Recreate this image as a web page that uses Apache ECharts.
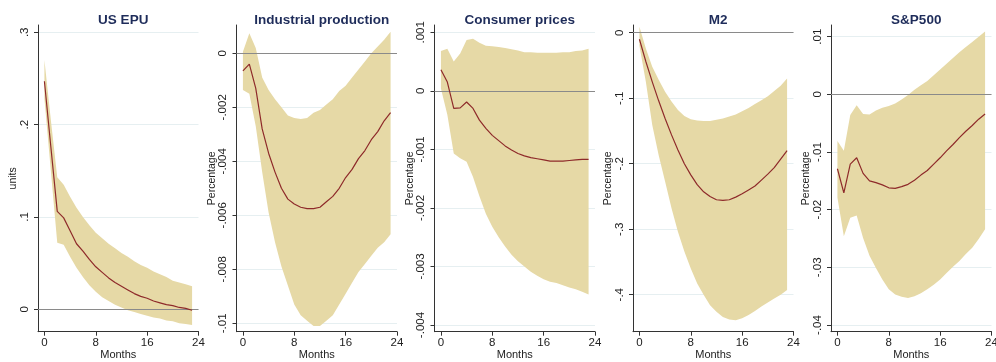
<!DOCTYPE html>
<html>
<head>
<meta charset="utf-8">
<script src="https://cdn.jsdelivr.net/npm/echarts@6/dist/echarts.min.js"></script>
<style>
  html, body { margin: 0; padding: 0; background: #fff; }
  #chart { width: 996px; height: 362px; }
</style>
</head>
<body>
<div id="chart"></div>
<script>
// Impulse responses to a US EPU shock, with confidence bands (months 0-23)
const months = [0,1,2,3,4,5,6,7,8,9,10,11,12,13,14,15,16,17,18,19,20,21,22,23];
const monthTicks = [0, 8, 16, 24];

const titles = ['US EPU', 'Industrial production', 'Consumer prices', 'M2', 'S&P500'];
const yNames = ['units', 'Percentage', 'Percentage', 'Percentage', 'Percentage'];

// US EPU
const epuMid = [0.247,0.176,0.106,0.099,0.085,0.071,0.063,0.054,0.046,0.040,0.034,0.029,0.025,0.021,0.017,0.014,0.012,0.009,0.007,0.005,0.004,0.002,0.001,-0.001];
const epuUp  = [0.270,0.205,0.143,0.135,0.122,0.110,0.100,0.091,0.083,0.077,0.071,0.066,0.061,0.057,0.052,0.048,0.045,0.041,0.038,0.035,0.031,0.029,0.027,0.025];
const epuLo  = [0.228,0.150,0.072,0.070,0.057,0.045,0.035,0.026,0.019,0.013,0.009,0.005,0.002,-0.001,-0.003,-0.005,-0.007,-0.009,-0.010,-0.012,-0.013,-0.015,-0.016,-0.017];

// Industrial production
const ipMid = [-0.00065,-0.0004,-0.0013,-0.0028,-0.0037,-0.0044,-0.0050,-0.0054,-0.00558,-0.0057,-0.00575,-0.00575,-0.0057,-0.0055,-0.0053,-0.0050,-0.0046,-0.0043,-0.0039,-0.0036,-0.0032,-0.0029,-0.0025,-0.0022];
const ipUp  = [0.00006,0.00074,0.0002,-0.0009,-0.00136,-0.0017,-0.0020,-0.0023,-0.0024,-0.00243,-0.0024,-0.0022,-0.0021,-0.0019,-0.0017,-0.0014,-0.0012,-0.0009,-0.0006,-0.0003,0.0,0.00025,0.0005,0.0008];
const ipLo  = [-0.00136,-0.0015,-0.0027,-0.0044,-0.0059,-0.0070,-0.0079,-0.0086,-0.0093,-0.0097,-0.0099,-0.0101,-0.0101,-0.0099,-0.0097,-0.0093,-0.0089,-0.0085,-0.0081,-0.0078,-0.0075,-0.0072,-0.0070,-0.0067];

// Consumer prices
const cpMid = [0.00036,0.00015,-0.0003,-0.00029,-0.00019,-0.0003,-0.0005,-0.00064,-0.00076,-0.00085,-0.00094,-0.00101,-0.00107,-0.00111,-0.00114,-0.00116,-0.00118,-0.0012,-0.0012,-0.0012,-0.00119,-0.00118,-0.00117,-0.00117];
const cpUp  = [0.00068,0.00072,0.0005,0.00064,0.00087,0.00089,0.00082,0.00077,0.00076,0.00075,0.00073,0.00071,0.00069,0.00066,0.00066,0.00065,0.00065,0.00065,0.00065,0.00066,0.00066,0.00068,0.00069,0.00072];
const cpLo  = [0.00004,-0.00041,-0.00107,-0.00115,-0.00121,-0.00147,-0.0018,-0.0021,-0.00232,-0.0025,-0.00266,-0.0028,-0.00291,-0.0030,-0.00309,-0.00316,-0.00322,-0.00326,-0.00328,-0.00332,-0.00336,-0.00339,-0.00343,-0.00348];

// M2
const m2Mid = [-0.010,-0.044,-0.075,-0.104,-0.131,-0.156,-0.179,-0.200,-0.217,-0.232,-0.243,-0.250,-0.255,-0.256,-0.255,-0.251,-0.246,-0.240,-0.234,-0.225,-0.216,-0.206,-0.193,-0.180];
const m2Up  = [0.009,-0.024,-0.052,-0.072,-0.090,-0.105,-0.118,-0.127,-0.132,-0.134,-0.135,-0.135,-0.133,-0.131,-0.128,-0.125,-0.120,-0.115,-0.109,-0.103,-0.097,-0.089,-0.081,-0.070];
const m2Lo  = [-0.020,-0.075,-0.141,-0.187,-0.227,-0.268,-0.304,-0.334,-0.360,-0.383,-0.400,-0.416,-0.426,-0.434,-0.438,-0.439,-0.436,-0.431,-0.425,-0.418,-0.412,-0.406,-0.400,-0.393];

// S&P500
const spMid = [-0.0129,-0.0171,-0.0121,-0.0110,-0.0137,-0.0150,-0.0153,-0.0157,-0.0162,-0.0163,-0.0160,-0.0156,-0.0149,-0.0140,-0.0132,-0.0121,-0.0110,-0.0098,-0.0087,-0.0075,-0.0064,-0.0054,-0.0043,-0.0034];
const spUp  = [-0.0081,-0.0098,-0.0036,-0.0019,-0.0034,-0.0035,-0.0028,-0.0023,-0.0020,-0.0016,-0.0009,-0.0001,0.0008,0.0016,0.0023,0.0033,0.0043,0.0053,0.0063,0.0073,0.0082,0.0091,0.0100,0.0109];
const spLo  = [-0.0179,-0.0246,-0.0214,-0.0210,-0.0249,-0.0280,-0.0301,-0.0321,-0.0338,-0.0347,-0.0351,-0.0353,-0.0350,-0.0345,-0.0338,-0.0330,-0.0321,-0.0310,-0.0299,-0.0289,-0.0277,-0.0266,-0.0251,-0.0234];

// Y-axis tick values and their printed labels
const epuTicks = [0, 0.1, 0.2, 0.3];
const epuTickLabels = ['0', '.1', '.2', '.3'];
const ipTicks = [-0.01, -0.008, -0.006, -0.004, -0.002, 0];
const ipTickLabels = ['-.01', '-.008', '-.006', '-.004', '-.002', '0'];
const cpTicks = [-0.004, -0.003, -0.002, -0.001, 0, 0.001];
const cpTickLabels = ['-.004', '-.003', '-.002', '-.001', '0', '.001'];
const m2Ticks = [-0.4, -0.3, -0.2, -0.1, 0];
const m2TickLabels = ['-.4', '-.3', '-.2', '-.1', '0'];
const spTicks = [-0.04, -0.03, -0.02, -0.01, 0, 0.01];
const spTickLabels = ['-.04', '-.03', '-.02', '-.01', '0', '.01'];

const panels = [
  { mid: epuMid, up: epuUp, lo: epuLo, ticks: epuTicks, labels: epuTickLabels, min: -0.02426, max: 0.3079 },
  { mid: ipMid,  up: ipUp,  lo: ipLo,  ticks: ipTicks,  labels: ipTickLabels,  min: -0.01031, max: 0.001048 },
  { mid: cpMid,  up: cpUp,  lo: cpLo,  ticks: cpTicks,  labels: cpTickLabels,  min: -0.004114, max: 0.001125 },
  { mid: m2Mid,  up: m2Up,  lo: m2Lo,  ticks: m2Ticks,  labels: m2TickLabels,  min: -0.4565, max: 0.01176 },
  { mid: spMid,  up: spUp,  lo: spLo,  ticks: spTicks,  labels: spTickLabels,  min: -0.04116, max: 0.01203 }
];

const gridLefts = [38, 236.5, 434.5, 633, 831];
const gridWidth = 160.5;
const gridTop = 25;
const gridHeight = 306.7;

const FONT = 'Liberation Sans, Arial, sans-serif';
const AXIS_COLOR = '#333333';
const BAND_COLOR = '#E6D9A6';
const LINE_COLOR = '#8E2A2A';
const GRID_COLOR = '#E6EFF1';
const TITLE_COLOR = '#1E2C5A';
const TEXT_COLOR = '#222222';

const option = {
  backgroundColor: '#ffffff',
  animation: false,
  title: [],
  grid: [],
  xAxis: [],
  yAxis: [],
  series: []
};

panels.forEach((p, i) => {
  option.title.push({
    text: titles[i],
    left: gridLefts[i] + gridWidth / 2,
    top: 8,
    textAlign: 'center',
    textStyle: { fontFamily: FONT, fontSize: 13.5, fontWeight: 'bold', color: TITLE_COLOR }
  });
  option.grid.push({
    left: gridLefts[i], top: gridTop, width: gridWidth, height: gridHeight,
    containLabel: false, outerBoundsMode: 'none'
  });

  option.xAxis.push({
    type: 'value', gridIndex: i, min: -1, max: 24,
    name: 'Months', nameLocation: 'middle', nameGap: 17.5, nameMoveOverlap: false,
    nameTextStyle: { fontFamily: FONT, fontSize: 11, color: TEXT_COLOR },
    axisLine: { show: true, onZero: false, lineStyle: { color: AXIS_COLOR, width: 1 } },
    axisTick: { show: true, length: 4, customValues: monthTicks, lineStyle: { color: AXIS_COLOR } },
    axisLabel: { customValues: monthTicks, margin: 5, fontFamily: FONT, fontSize: 11.5, color: TEXT_COLOR },
    splitLine: { show: false }
  });

  option.yAxis.push({
    type: 'value', gridIndex: i, min: p.min, max: p.max,
    name: yNames[i], nameLocation: 'middle', nameRotate: 90, nameGap: 19, nameMoveOverlap: false,
    nameTextStyle: { fontFamily: FONT, fontSize: 10.5, color: TEXT_COLOR },
    axisLine: { show: true, onZero: false, lineStyle: { color: AXIS_COLOR, width: 1 } },
    axisTick: { show: true, length: 4, customValues: p.ticks, lineStyle: { color: AXIS_COLOR } },
    axisLabel: {
      customValues: p.ticks, rotate: 90, margin: 7.5,
      fontFamily: FONT, fontSize: 11.5, color: TEXT_COLOR,
      formatter: v => {
        const k = p.ticks.findIndex(t => Math.abs(t - v) < 1e-9);
        return k >= 0 ? p.labels[k] : '';
      }
    },
    splitLine: { show: true, lineStyle: { color: GRID_COLOR, width: 1 } }
  });

  // confidence band: one polygon through the upper bounds and back along the lower bounds
  option.series.push({
    type: 'custom', xAxisIndex: i, yAxisIndex: i, silent: true, z: 2,
    data: months.map((m, k) => [m, p.lo[k], p.up[k]]),
    encode: { x: 0, y: [1, 2] },
    renderItem: (params, api) => {
      if (params.dataIndex !== 0) return null;
      const pts = [];
      for (let k = 0; k < months.length; k++) pts.push(api.coord([months[k], p.up[k]]));
      for (let k = months.length - 1; k >= 0; k--) pts.push(api.coord([months[k], p.lo[k]]));
      return {
        type: 'polygon',
        shape: { points: pts },
        style: { fill: BAND_COLOR, stroke: null }
      };
    }
  });
  // point estimate, with the zero reference line
  option.series.push({
    type: 'line', xAxisIndex: i, yAxisIndex: i,
    data: months.map((m, k) => [m, p.mid[k]]),
    symbol: 'none', lineStyle: { color: LINE_COLOR, width: 1.2 }, z: 4,
    markLine: {
      silent: true, symbol: 'none', label: { show: false },
      lineStyle: { color: '#8a8a8a', width: 1, type: 'solid' },
      data: [{ yAxis: 0 }], z: 3
    }
  });
});

const chart = echarts.init(document.getElementById('chart'), null, { renderer: 'canvas' });
chart.setOption(option);
</script>
</body>
</html>
